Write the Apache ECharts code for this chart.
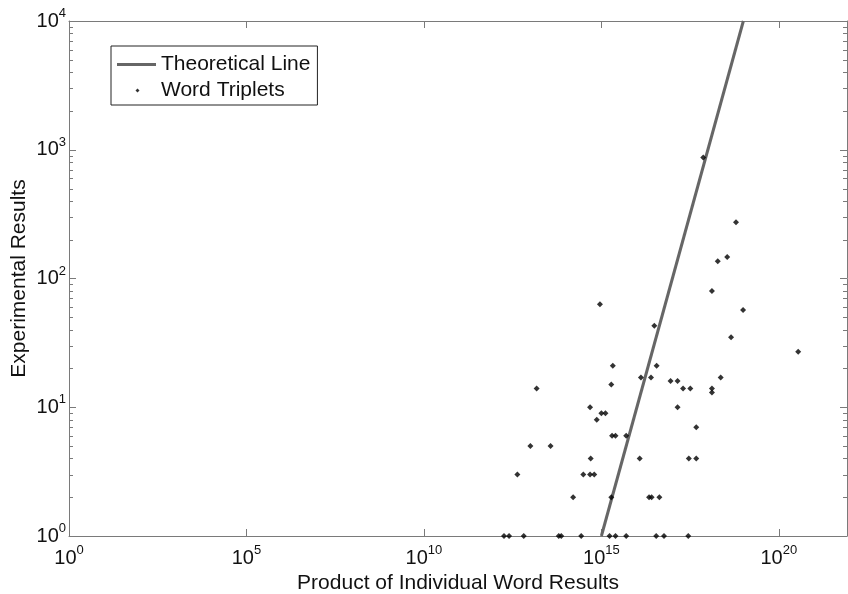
<!DOCTYPE html>
<html>
<head>
<meta charset="utf-8">
<script src="https://cdn.jsdelivr.net/npm/echarts@6/dist/echarts.min.js"></script>
<style>
  html, body { margin: 0; padding: 0; background: #fff; }
  #chart { width: 848px; height: 594px; }
</style>
</head>
<body>
<div id="chart"></div>
<script>
// Word triplet hit counts against the product of the single-word counts
const tripletProduct = [
  1.8e12, 2.5e12, 6.5e12, 6.3e13, 7.4e13, 2.7e14, 1.7e15, 2.5e15, 5.0e15, 3.5e16, 5.8e16, 2.8e17,
  1.6e14, 1.9e15, 2.2e16, 2.6e16, 4.3e16,
  4.3e12, 3.1e14, 4.8e14, 6.3e14,
  5.0e14, 1.2e16, 2.9e17, 4.7e17,
  1.0e13, 3.7e13,
  2.0e15, 2.5e15, 5.0e15,
  4.7e17,
  7.4e14,
  1.0e15, 1.3e15,
  4.8e14, 1.4e17,
  1.3e18,
  1.5e13, 2.0e17, 3.2e17, 1.3e18,
  1.9e15,
  8.9e16, 1.4e17,
  1.3e16, 2.5e16, 2.3e18,
  2.1e15, 3.6e16,
  3.5e20,
  4.5e18,
  3.1e16,
  9.8e18,
  9.1e14,
  1.3e18,
  1.9e18,
  3.5e18,
  6.2e18,
  7.4e17
];
const tripletCount = [
  1, 1, 1, 1, 1, 1, 1, 1, 1, 1, 1, 1,
  2, 2, 2, 2, 2,
  3, 3, 3, 3,
  4, 4, 4, 4,
  5, 5,
  6, 6, 6,
  7,
  8,
  9, 9,
  10, 10,
  13,
  14, 14, 14, 14,
  15,
  16, 16,
  17, 17, 17,
  21, 21,
  27,
  35,
  43,
  57,
  63,
  80,
  136,
  147,
  273,
  870
];

// Theoretical relation: end points of the straight line in log-log space
const theoryProduct = [1e15, 1e19];
const theoryCount = [1, 1e4];

// Axis ranges as powers of ten
const xExpMin = 0, xExpMax = 21.92, xExpStep = 5;
const yExpMin = 0, yExpMax = 4, yExpStep = 1;

const FONT = "'Liberation Sans', Arial, Helvetica, sans-serif";
const AXIS_GRAY = '#7a7a7a';
const TEXT = '#111';

const lg = Math.log10;
const scatterData = tripletProduct.map((p, i) => [lg(p), lg(tripletCount[i])]);
const theoryData = theoryProduct.map((p, i) => [lg(p), lg(theoryCount[i])]);

// logarithmic minor ticks of the count axis (2..9 in each decade)
const minorTicks = [];
for (let e = yExpMin; e < yExpMax; e++) {
  for (let m = 2; m <= 9; m++) minorTicks.push([xExpMin, e + lg(m)]);
}

const powRich = {
  b: { fontSize: 20, fontFamily: FONT, color: TEXT, verticalAlign: 'bottom', lineHeight: 20 },
  s: { fontSize: 13, fontFamily: FONT, color: TEXT, verticalAlign: 'bottom', lineHeight: 13, padding: [0, 0, 11, 0] }
};
function powLabel(step) {
  return function (v) {
    const r = Math.round(v);
    if (Math.abs(v - r) > 1e-6 || r % step !== 0) return '';
    return '{b|10}{s|' + r + '}';
  };
}

const axisLine = { show: true, onZero: false, lineStyle: { color: AXIS_GRAY, width: 1 } };

// legend markers inside a 39x5 icon box: a thick line stroke and a small centred dot
const lineIcon = 'path://M0,0M39,0M39,5M0,5M0,1L39,1L39,4L0,4Z';
const dotIcon = 'path://M0,0M39,0M39,5M0,5M20.5,0.5L22.5,2.5L20.5,4.5L18.5,2.5Z';

const chart = echarts.init(document.getElementById('chart'), null, { renderer: 'canvas' });
chart.setOption({
  animation: false,
  backgroundColor: '#fff',
  grid: { left: 69, right: 1, top: 21, bottom: 58, containLabel: false, outerBoundsMode: 'none' },
  legend: {
    orient: 'vertical',
    left: 111,
    top: 46,
    padding: [8, 7, 4, 6],
    itemWidth: 39,
    itemHeight: 5,
    itemGap: 5,
    borderColor: '#222',
    borderWidth: 1,
    selectedMode: false,
    textStyle: { fontSize: 21, fontFamily: FONT, color: TEXT },
    data: [
      { name: 'Theoretical Line', icon: lineIcon, itemStyle: { color: '#666' } },
      { name: 'Word Triplets', icon: dotIcon, itemStyle: { color: '#000' } }
    ]
  },
  xAxis: [
    {
      type: 'value', position: 'bottom',
      min: xExpMin, max: xExpMax, interval: xExpStep,
      axisLine: axisLine,
      axisTick: { inside: true, length: 7, lineStyle: { color: AXIS_GRAY } },
      axisLabel: { formatter: powLabel(xExpStep), rich: powRich, margin: 12, showMaxLabel: false },
      splitLine: { show: false },
      name: 'Product of Individual Word Results',
      nameLocation: 'middle',
      nameGap: 35,
      nameTextStyle: { fontSize: 21, fontFamily: FONT, color: TEXT }
    },
    {
      type: 'value', position: 'top',
      min: xExpMin, max: xExpMax, interval: xExpStep,
      axisLine: axisLine,
      axisTick: { inside: true, length: 7, lineStyle: { color: AXIS_GRAY } },
      axisLabel: { show: false },
      splitLine: { show: false }
    }
  ],
  yAxis: [
    {
      type: 'value', position: 'left',
      min: yExpMin, max: yExpMax, interval: yExpStep,
      axisLine: axisLine,
      axisTick: { inside: true, length: 7, lineStyle: { color: AXIS_GRAY } },
      axisLabel: { formatter: powLabel(yExpStep), rich: powRich, margin: 3 },
      splitLine: { show: false },
      name: 'Experimental Results',
      nameLocation: 'middle',
      nameGap: 39,
      nameMoveOverlap: false,
      nameTextStyle: { fontSize: 21, fontFamily: FONT, color: TEXT }
    },
    {
      type: 'value', position: 'right',
      min: yExpMin, max: yExpMax, interval: yExpStep,
      axisLine: axisLine,
      axisTick: { inside: true, length: 7, lineStyle: { color: AXIS_GRAY } },
      axisLabel: { show: false },
      splitLine: { show: false }
    }
  ],
  series: [
    {
      name: 'Minor ticks',
      type: 'custom',
      xAxisIndex: 0, yAxisIndex: 0,
      silent: true,
      clip: false,
      data: minorTicks,
      renderItem: function (params, api) {
        const v = api.value(1);
        const l = api.coord([xExpMin, v]);
        const r = api.coord([xExpMax, v]);
        const y = Math.round(l[1]) + 0.5;
        return {
          type: 'group',
          children: [
            { type: 'line', shape: { x1: l[0], y1: y, x2: l[0] + 4, y2: y }, style: { stroke: AXIS_GRAY, lineWidth: 1 } },
            { type: 'line', shape: { x1: r[0] - 4, y1: y, x2: r[0], y2: y }, style: { stroke: AXIS_GRAY, lineWidth: 1 } }
          ]
        };
      }
    },
    {
      name: 'Theoretical Line',
      type: 'line',
      xAxisIndex: 0, yAxisIndex: 0,
      data: theoryData,
      symbol: 'none',
      lineStyle: { color: '#666', width: 3 },
      itemStyle: { color: '#666' },
      z: 3
    },
    {
      name: 'Word Triplets',
      type: 'scatter',
      xAxisIndex: 0, yAxisIndex: 0,
      data: scatterData,
      symbol: 'diamond',
      symbolSize: 6,
      clip: false,
      itemStyle: { color: '#000' },
      z: 4
    }
  ]
});
</script>
</body>
</html>
